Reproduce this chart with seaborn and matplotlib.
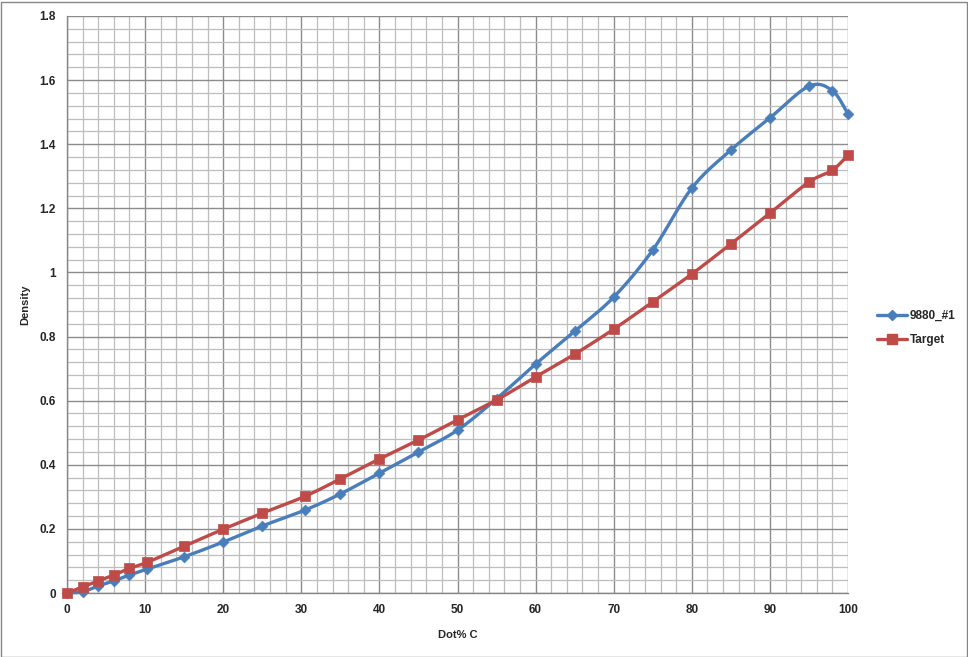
import numpy as np
import pandas as pd
import seaborn as sns
import matplotlib.pyplot as plt
from matplotlib.lines import Line2D
from matplotlib.patches import Rectangle
from matplotlib.ticker import MultipleLocator, FuncFormatter

# data
dot_x = [0, 2, 4, 6, 8, 10.3, 15, 20, 25, 30.5, 35, 40, 45, 50, 55, 60,
         65, 70, 75, 80, 85, 90, 95, 98, 100]
sample_y = [0, 0.004, 0.022, 0.038, 0.056, 0.075, 0.113, 0.159, 0.209, 0.259,
            0.309, 0.374, 0.440, 0.508, 0.606, 0.714, 0.817, 0.923, 1.070,
            1.263, 1.382, 1.482, 1.581, 1.567, 1.494]
target_y = [0, 0.019, 0.038, 0.056, 0.077, 0.096, 0.146, 0.199, 0.249, 0.302,
            0.356, 0.418, 0.477, 0.540, 0.602, 0.674, 0.745, 0.823, 0.908,
            0.995, 1.089, 1.185, 1.282, 1.319, 1.366]
series_names = ["9880_#1", "Target"]

BLUE = "#4A7EBB"
RED = "#BE4B48"


def smooth_curve(xs, ys, sx=781 / 100, sy=577 / 1.8, n=24):
    # Excel-style smoothed line: Bezier segments with Catmull-Rom control points
    p = np.column_stack([np.asarray(xs) * sx, np.asarray(ys) * sy])
    p = np.vstack([p[0], p, p[-1]])
    t = np.linspace(0, 1, n)[:, None]
    out = []
    for i in range(1, len(p) - 2):
        p0, p1, p2, p3 = p[i - 1], p[i], p[i + 1], p[i + 2]
        c1 = p1 + (p2 - p0) / 6
        c2 = p2 - (p3 - p1) / 6
        seg = ((1 - t) ** 3) * p1 + 3 * ((1 - t) ** 2) * t * c1 + 3 * (1 - t) * t ** 2 * c2 + t ** 3 * p2
        out.append(seg if i == 1 else seg[1:])
    out = np.vstack(out)
    return out[:, 0] / sx, out[:, 1] / sy


sns.set_theme(style="white")
plt.rcParams['font.family'] = ['Liberation Sans', 'DejaVu Sans']

fig = plt.figure(figsize=(9.68, 6.57), dpi=100)
ax = fig.add_axes([67 / 968, 1 - 593 / 657, 781 / 968, 577 / 657])

pts = pd.DataFrame({"x": dot_x, "sample": sample_y, "target": target_y})

for col, color, marker, ms in [("sample", BLUE, "D", 30), ("target", RED, "s", 58)]:
    sx_, sy_ = smooth_curve(pts["x"], pts[col])
    sns.lineplot(x=sx_, y=sy_, ax=ax, color=color, lw=2.4, sort=False,
                 estimator=None, zorder=3, clip_on=False)
    sns.scatterplot(data=pts, x="x", y=col, ax=ax, color=color, marker=marker,
                    s=ms, edgecolor=color, linewidth=0.5, zorder=4, legend=False,
                    clip_on=False)

ax.set_xlim(0, 100)
ax.set_ylim(0, 1.8)
ax.xaxis.set_major_locator(MultipleLocator(10))
ax.xaxis.set_minor_locator(MultipleLocator(2))
ax.yaxis.set_major_locator(MultipleLocator(0.2))
ax.yaxis.set_minor_locator(MultipleLocator(0.04))
ax.yaxis.set_major_formatter(FuncFormatter(lambda v, _: f"{v:.1f}".rstrip("0").rstrip(".") if v else "0"))

ax.grid(which="minor", color="#BDBDBD", lw=0.9)
ax.grid(which="major", color="#8C8C8C", lw=1.0)
ax.set_axisbelow(True)

for side in ["top", "right"]:
    ax.spines[side].set_visible(False)
for side in ["left", "bottom"]:
    ax.spines[side].set_color("#868686")
    ax.spines[side].set_linewidth(1.0)

ax.tick_params(axis="both", which="major", length=4, width=1, color="#868686",
               direction="out", labelsize=8.5, pad=4)
ax.tick_params(axis="both", which="minor", length=0)
for lab in ax.get_xticklabels() + ax.get_yticklabels():
    lab.set_fontweight("bold")

ax.set_xlabel("Dot% C", fontsize=8, fontweight="bold", labelpad=10)
ax.set_ylabel("Density", fontsize=8, fontweight="bold", labelpad=7)

handles = [Line2D([0], [0], color=BLUE, lw=2.4, marker="D", ms=5),
           Line2D([0], [0], color=RED, lw=2.4, marker="s", ms=7)]
fig.legend(handles, series_names, loc="center left",
           bbox_to_anchor=(872 / 968, 1 - 328 / 657), frameon=False,
           fontsize=8.5, handlelength=2.6, handletextpad=0.2, labelspacing=1.0,
           borderaxespad=0)
for t in fig.legends[0].get_texts():
    t.set_fontweight("bold")

fig.patches.append(Rectangle((0.5 / 968, 0.5 / 657), 1 - 2 / 968, 1 - 2 / 657,
                             transform=fig.transFigure, fill=False,
                             edgecolor="#868686", lw=1))

fig.savefig("out.png", dpi=100)
